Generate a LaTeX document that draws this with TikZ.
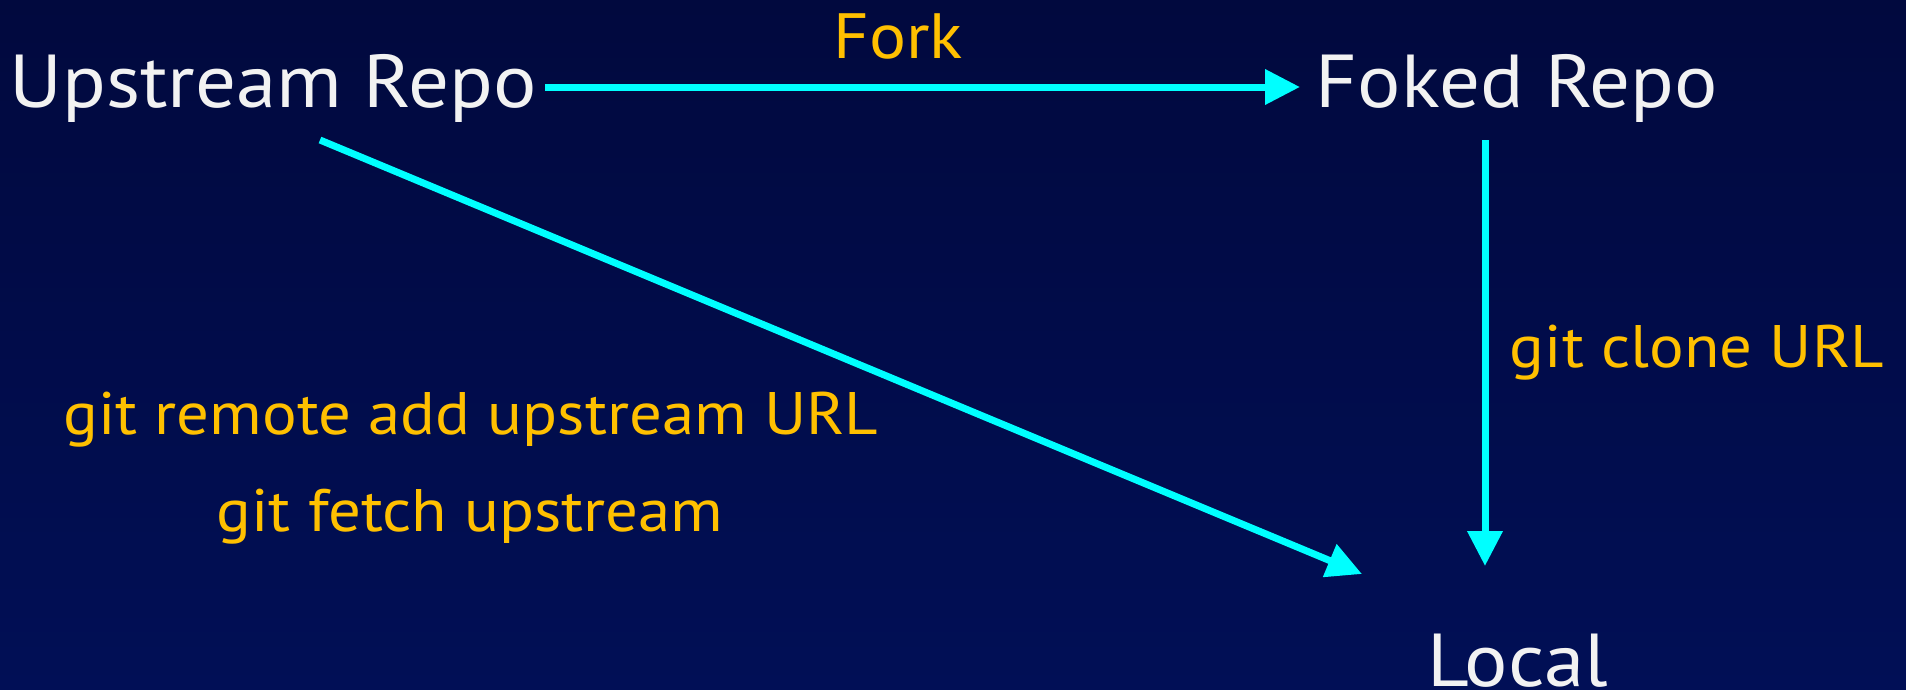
\documentclass[tikz,border=0pt]{standalone}
\usepackage{fontspec}
\setmainfont{PT Sans}[FakeStretch=1.08]
\usetikzlibrary{arrows.meta}
\definecolor{bgtop}{RGB}{1,9,62}
\definecolor{bgbot}{RGB}{1,15,86}
\definecolor{cyanline}{RGB}{0,255,255}
\definecolor{gold}{RGB}{255,192,0}
\definecolor{wtext}{RGB}{242,242,242}
\begin{document}
\begin{tikzpicture}[x=1pt,y=-1pt,
  repo/.style={text=wtext,font=\fontsize{75}{80}\selectfont,anchor=base,inner sep=0pt},
  cmd/.style={text=gold,font=\fontsize{60}{64}\selectfont,anchor=base,inner sep=0pt},
  arr/.style={draw=cyanline,line width=7pt,-{Triangle[length=35pt,width=34pt]}}]
\shade[top color=bgtop,bottom color=bgbot] (0,0) rectangle (1906,689);
\useasboundingbox (0,0) rectangle (1906,689);
\node[repo] (up) at (273,107) {Upstream Repo};
\node[repo] (fk) at (1517,107) {Foked Repo};
\node[repo] (loc) at (1518,686) {Local};
\node[cmd,font=\fontsize{64}{68}\selectfont] (fork) at (898,58) {Fork};
\node[cmd] (clone) at (1697,367) {git clone URL};
\node[cmd] (remote) at (471,434) {git remote add upstream URL};
\node[cmd] (fetch) at (470,531) {git fetch upstream};
\coordinate (a1) at (545,87);
\coordinate (a2) at (1300,87);
\coordinate (b1) at (1485,140);
\coordinate (b2) at (1485,566);
\coordinate (c1) at (320,140);
\coordinate (c2) at (1362,574);
\draw[arr] (a1) -- (a2);
\draw[arr] (b1) -- (b2);
\draw[arr] (c1) -- (c2);
\end{tikzpicture}
\end{document}
